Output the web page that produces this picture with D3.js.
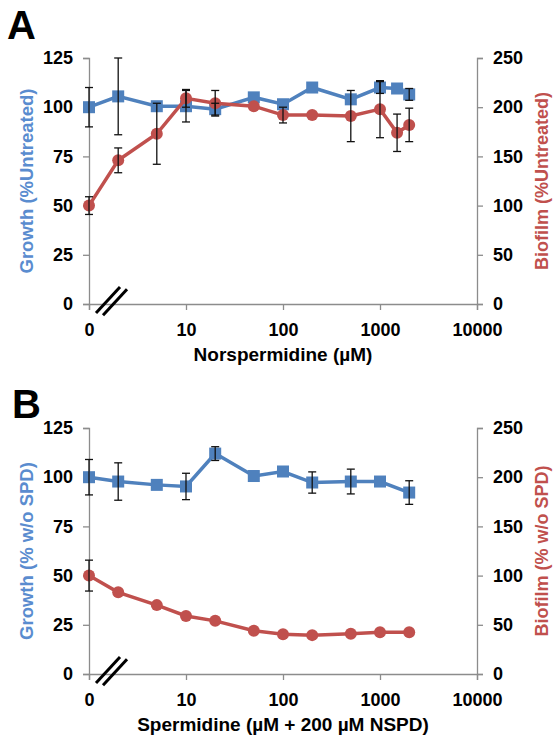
<!DOCTYPE html>
<html>
<head>
<meta charset="utf-8">
<script src="https://cdn.jsdelivr.net/npm/d3@7"></script>
<style>
  body { margin: 0; background: #fff; }
  text { font-family: Arial, "Liberation Sans", sans-serif; font-weight: bold; }
</style>
</head>
<body>
<div id="main"></div>
<script>
// panel A
var concA = [0, 2, 5, 10, 20, 50, 100, 200, 500, 1000, 1500, 2000];
var growthA = [100, 105.5, 100.5, 100.5, 99, 105, 101.5, 110, 104, 110, 109.5, 106.5];
var growthErrA = [10, 19.5, 0, 8, 3, 0, 0, 0, 0, 3, 0, 3];
var biofilmA = [100, 146, 173, 209, 204, 201, 192, 192, 191, 198, 174, 182];
var biofilmErrA = [9, 12.6, 31, 9, 13, 0, 8, 0, 26, 29, 19, 17];

// panel B
var concB = [0, 2, 5, 10, 20, 50, 100, 200, 500, 1000, 2000];
var growthB = [100, 97.8, 96.1, 95.3, 112, 100.6, 102.9, 97.3, 97.8, 97.8, 92.2];
var growthErrB = [9, 9.5, 0, 6.7, 3.5, 0, 0, 5.4, 6.3, 0, 6];
var biofilmB = [100, 83, 70, 59, 54, 44, 40.5, 39.5, 41, 42.5, 42.5];
var biofilmErrB = [15.7, 0, 0, 0, 0, 0, 0, 0, 0, 0, 0];

var xTicks = [1, 10, 100, 1000, 10000];
var xTickLabels = ['0', '10', '100', '1000', '10000'];
var leftTicks = [0, 25, 50, 75, 100, 125];
var rightTicks = [0, 50, 100, 150, 200, 250];

var blue = '#4f81bd', red = '#c0504d', grey = '#8c8c8c';

var svg = d3.select('#main').append('svg').attr('width', 553).attr('height', 737);

function drawPanel(p) {
    var g = svg.append('g');
    var x = d3.scaleLog().domain([1, 10000]).range([89, 477]);
    var yL = d3.scaleLinear().domain([0, 125]).range([p.bottom, p.top]);
    var yR = d3.scaleLinear().domain([0, 250]).range([p.bottom, p.top]);
    var xv = d => x(Math.max(d, 1));

    // axes
    var ax = g.append('g').attr('transform', 'translate(0,' + p.bottom + ')')
        .call(d3.axisBottom(x).tickValues(xTicks).tickFormat((d, i) => xTickLabels[i]).tickSizeOuter(0).tickSize(6).tickPadding(10));
    var al = g.append('g').attr('transform', 'translate(89,0)')
        .call(d3.axisLeft(yL).tickValues(leftTicks).tickSizeOuter(0).tickSize(6).tickPadding(10));
    var ar = g.append('g').attr('transform', 'translate(477,0)')
        .call(d3.axisRight(yR).tickValues(rightTicks).tickSizeOuter(0).tickSize(6).tickPadding(10));
    [ax, al, ar].forEach(a => {
        a.selectAll('path, line').attr('stroke', grey).attr('stroke-width', 1.3);
        a.selectAll('text').attr('font-size', 18).attr('fill', '#000')
            .style('font-family', 'Arial, "Liberation Sans", sans-serif').style('font-weight', 'bold');
    });
    ax.selectAll('text').attr('dy', '0.9em');

    // axis break
    [0, 7].forEach(o => {
        g.append('line')
            .attr('x1', 96 + o).attr('y1', p.bottom + 9 + o / 3)
            .attr('x2', 120 + o).attr('y2', p.bottom - 17 + o / 3)
            .attr('stroke', '#000').attr('stroke-width', 3);
    });

    // titles
    g.append('text').attr('x', 283).attr('y', p.bottom + 57).attr('text-anchor', 'middle')
        .attr('font-size', 19).text(p.xTitle);
    g.append('text').attr('transform', 'translate(33,' + (p.top + p.bottom) / 2 + ') rotate(-90)')
        .attr('text-anchor', 'middle').attr('font-size', 18.5).attr('fill', '#5a8ccf').text(p.yLTitle);
    g.append('text').attr('transform', 'translate(548,' + (p.top + p.bottom) / 2 + ') rotate(-90)')
        .attr('text-anchor', 'middle').attr('font-size', 18).attr('fill', red).text(p.yRTitle);
    g.append('text').attr('x', p.labelX).attr('y', p.labelY).attr('font-size', 40).text(p.label);

    // growth series
    var lineL = d3.line().x((d, i) => xv(p.conc[i])).y(d => yL(d));
    g.append('path').datum(p.growth).attr('d', lineL)
        .attr('fill', 'none').attr('stroke', blue).attr('stroke-width', 3.5);
    g.selectAll('rect.gm').data(p.growth).enter().append('rect')
        .attr('x', (d, i) => xv(p.conc[i]) - 6).attr('y', d => yL(d) - 6)
        .attr('width', 12).attr('height', 12).attr('fill', blue);

    // biofilm series
    var lineR = d3.line().x((d, i) => xv(p.conc[i])).y(d => yR(d));
    g.append('path').datum(p.biofilm).attr('d', lineR)
        .attr('fill', 'none').attr('stroke', red).attr('stroke-width', 3.5);
    g.selectAll('circle.bm').data(p.biofilm).enter().append('circle')
        .attr('cx', (d, i) => xv(p.conc[i])).attr('cy', d => yR(d))
        .attr('r', 6).attr('fill', red);

    // error bars
    function errBars(vals, errs, y) {
        vals.forEach((v, i) => {
            if (!errs[i]) return;
            var cx = xv(p.conc[i]), t = y(v + errs[i]), b = y(v - errs[i]);
            var eb = g.append('g').attr('stroke', '#111').attr('stroke-width', 1.3);
            eb.append('line').attr('x1', cx).attr('x2', cx).attr('y1', t).attr('y2', b);
            eb.append('line').attr('x1', cx - 4).attr('x2', cx + 4).attr('y1', t).attr('y2', t);
            eb.append('line').attr('x1', cx - 4).attr('x2', cx + 4).attr('y1', b).attr('y2', b);
        });
    }
    errBars(p.growth, p.growthErr, yL);
    errBars(p.biofilm, p.biofilmErr, yR);
}

drawPanel({
    top: 58, bottom: 304, label: 'A', labelX: 7, labelY: 39,
    conc: concA, growth: growthA, growthErr: growthErrA, biofilm: biofilmA, biofilmErr: biofilmErrA,
    xTitle: 'Norspermidine (\u00b5M)', yLTitle: 'Growth (%Untreated)', yRTitle: 'Biofilm (%Untreated)'
});
drawPanel({
    top: 428, bottom: 674, label: 'B', labelX: 12, labelY: 418,
    conc: concB, growth: growthB, growthErr: growthErrB, biofilm: biofilmB, biofilmErr: biofilmErrB,
    xTitle: 'Spermidine (\u00b5M + 200 \u00b5M NSPD)', yLTitle: 'Growth (% w/o SPD)', yRTitle: 'Biofilm (% w/o SPD)'
});
</script>
</body>
</html>
